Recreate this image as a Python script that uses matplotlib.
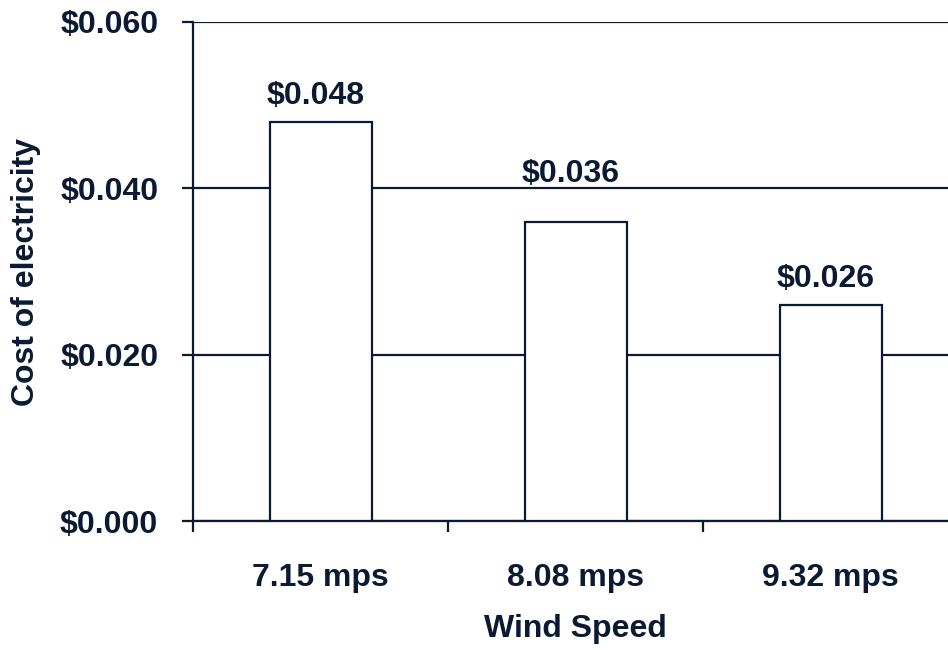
import matplotlib.pyplot as plt
from matplotlib.ticker import FuncFormatter

# data
speeds = ['7.15 mps', '8.08 mps', '9.32 mps']
costs = [0.048, 0.036, 0.026]
y_ticks = [0.000, 0.020, 0.040, 0.060]
# label lift above each bar (points); middle one sits clear of the gridline
label_lift = [7.5, 23.5, 7.5]

ink = '#0b1a33'
plt.rcParams['font.family'] = ['Liberation Sans', 'DejaVu Sans']
plt.rcParams['font.weight'] = 'bold'

fig = plt.figure(figsize=(9.48, 6.5), dpi=100)
ax = fig.add_axes([193 / 948, 129 / 650, 765 / 948, 499 / 650])

x = list(range(len(speeds)))
ax.set_axisbelow(True)
ax.grid(axis='y', color=ink, linewidth=1.6)
bars = ax.bar(x, costs, width=0.4, color='white', edgecolor=ink,
              linewidth=1.6, zorder=3)

for b, c, lift in zip(bars, costs, label_lift):
    ax.annotate('$%.3f' % c, (b.get_x() + b.get_width() / 2, c),
                xytext=(-3.5, lift), textcoords='offset points',
                ha='center', va='bottom', fontsize=23,
                fontweight='bold', color=ink)

ax.set_xlim(-0.5, len(speeds) - 0.5)
ax.set_ylim(0, 0.06)
ax.set_yticks(y_ticks)
ax.yaxis.set_major_formatter(FuncFormatter(lambda v, p: '$%.3f' % v))

# ticks sit between categories, labels at the centres
ax.set_xticks([i - 0.5 for i in range(len(speeds) + 1)])
ax.set_xticklabels([])
ax.set_xticks(x, minor=True)
ax.set_xticklabels(speeds, minor=True)
ax.tick_params(axis='x', which='major', length=8, width=1.6, color=ink)
ax.tick_params(axis='x', which='minor', length=0, pad=30,
               labelsize=23, labelcolor=ink)
ax.tick_params(axis='y', length=8, width=1.6, color=ink, pad=17,
               labelsize=23, labelcolor=ink)

for side in ['top', 'right']:
    ax.spines[side].set_visible(False)
for side in ['left', 'bottom']:
    ax.spines[side].set_color(ink)
    ax.spines[side].set_linewidth(1.6)

ax.set_xlabel('Wind Speed', fontsize=23, fontweight='bold', color=ink,
              labelpad=15)
ax.set_ylabel('Cost of electricity', fontsize=23, fontweight='bold',
              color=ink, labelpad=14)

fig.savefig('out.png', dpi=100)
